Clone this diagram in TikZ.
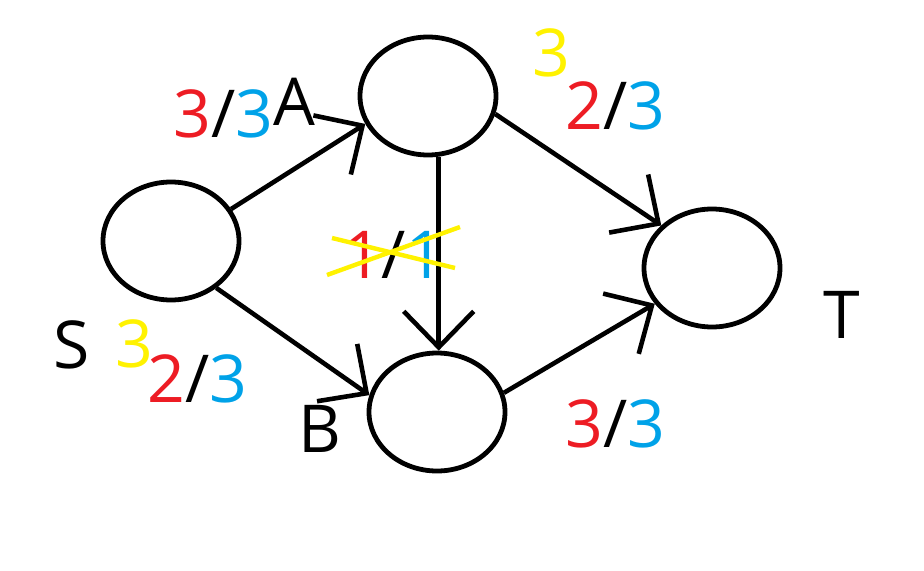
\documentclass[tikz,border=0pt]{standalone}
\usepackage{fontspec}
\setmainfont{Open Sans}
\usepackage{xcolor}
\usepackage{tikz}
\usetikzlibrary{positioning, arrows.meta, calc, shapes.geometric}
\definecolor{flow-red}{HTML}{ED1C24}
\definecolor{flow-blue}{HTML}{00A2E8}
\definecolor{flow-yellow}{HTML}{FFF200}

\begin{document}
\begin{tikzpicture}[
    vertex/.style={draw, ellipse, minimum width=3.4cm, minimum height=2.95cm,
                   inner sep=0pt, line width=0.12cm},
    arr/.style={-{Straight Barb[length=0.9cm, width=1.75cm]}, line width=0.115cm},
    lbl/.style={font=\fontsize{47}{50}\selectfont, anchor=base, inner sep=0pt},
    strike/.style={flow-yellow, line width=0.11cm},
]
    \useasboundingbox (0, 0) rectangle (23.1, 14.25);

    % Vertices
    \node[vertex] (S) at (4.275, 8.225)  {};
    \node[vertex] (A) at (10.7, 11.85)   {};
    \node[vertex] (B) at (10.925, 3.95)  {};
    \node[vertex] (T) at (17.8, 7.55)    {};

    % Vertex names
    \node[lbl] (nameS) at (1.8, 5.05)   {S};
    \node[lbl] (nameA) at (7.35, 11.1)  {A};
    \node[lbl] (nameB) at (8.0, 2.95)   {B};
    \node[lbl] (nameT) at (21.05, 5.8)  {T};

    % Edges
    \draw[arr] (S.28)  -- (A.204);
    \draw[arr] (S.-46) -- (B.166);
    \draw[arr] (A.-80) -- (A.-80 |- B.north);
    \draw[arr] (A.-15) -- (T.140);
    \draw[arr] (B.16)  -- (T.212);

    % Flow / capacity
    \node[lbl] (flowSA) at (5.59, 10.8)   {\textcolor{flow-red}{3}/\textcolor{flow-blue}{3}};
    \node[lbl] (flowSB) at (4.94, 4.2)    {\textcolor{flow-red}{2}/\textcolor{flow-blue}{3}};
    \node[lbl] (flowAB) at (9.85, 7.3)    {\textcolor{flow-red}{1}/\textcolor{flow-blue}{1}};
    \node[lbl] (flowAT) at (15.38, 11.0)  {\textcolor{flow-red}{2}/\textcolor{flow-blue}{3}};
    \node[lbl] (flowBT) at (15.39, 3.075) {\textcolor{flow-red}{3}/\textcolor{flow-blue}{3}};

    % Updated flows
    \node[lbl, text=flow-yellow] (newSB) at (3.35, 5.075) {3};
    \node[lbl, text=flow-yellow] (newAT) at (13.78, 12.325) {3};

    % Cancelled flow
    \draw[strike] (8.175, 7.375) -- (11.5, 8.575);
    \draw[strike] (8.3, 8.3) -- (11.375, 7.55);
\end{tikzpicture}
\end{document}
